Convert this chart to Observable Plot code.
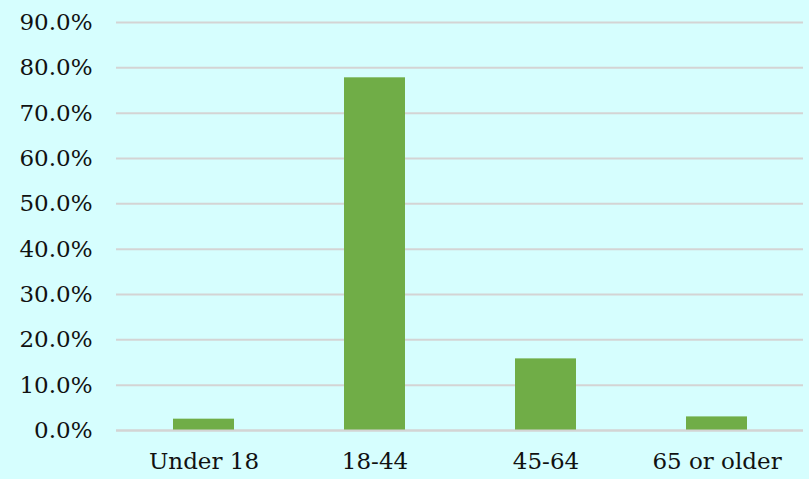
<!DOCTYPE html>
<html>
<head>
<meta charset="utf-8">
<script src="https://cdn.jsdelivr.net/npm/d3@7"></script>
<script src="https://cdn.jsdelivr.net/npm/@observablehq/plot@0.6"></script>
<style>
  html, body { margin: 0; padding: 0; background: #d6fefe; }
  #chart { width: 809px; height: 479px; overflow: hidden; }
</style>
</head>
<body>
<div id="chart"></div>
<script>
const categories = ["Under 18", "18-44", "45-64", "65 or older"];
const values = [2.5, 77.8, 15.8, 3.0];
const yTicks = [0, 10, 20, 30, 40, 50, 60, 70, 80, 90];

const data = categories.map((c, i) => ({ category: c, value: values[i] }));

const chart = Plot.plot({
  width: 809,
  height: 479,
  marginLeft: 116,
  marginRight: 6,
  marginTop: 22,
  marginBottom: 49,
  style: { background: "#d6fefe", fontFamily: "'DejaVu Serif', serif", fontSize: "23px", color: "#111" },
  x: { domain: categories, paddingInner: 0.645, paddingOuter: 0.3225, label: null, tickSize: 0, tickPadding: 22 },
  y: { domain: [0, 90], ticks: yTicks, label: null, tickSize: 0, tickPadding: 24, tickFormat: d => d.toFixed(1) + "%" },
  marks: [
    Plot.gridY(yTicks, { stroke: "#d4d4d4", strokeOpacity: 1, strokeWidth: 2 }),
    Plot.barY(data, { x: "category", y: "value", fill: "#70ad47" }),
    Plot.ruleY([0], { stroke: "#d4d4d4", strokeWidth: 2 })
  ]
});
document.getElementById("chart").append(chart);
</script>
</body>
</html>
